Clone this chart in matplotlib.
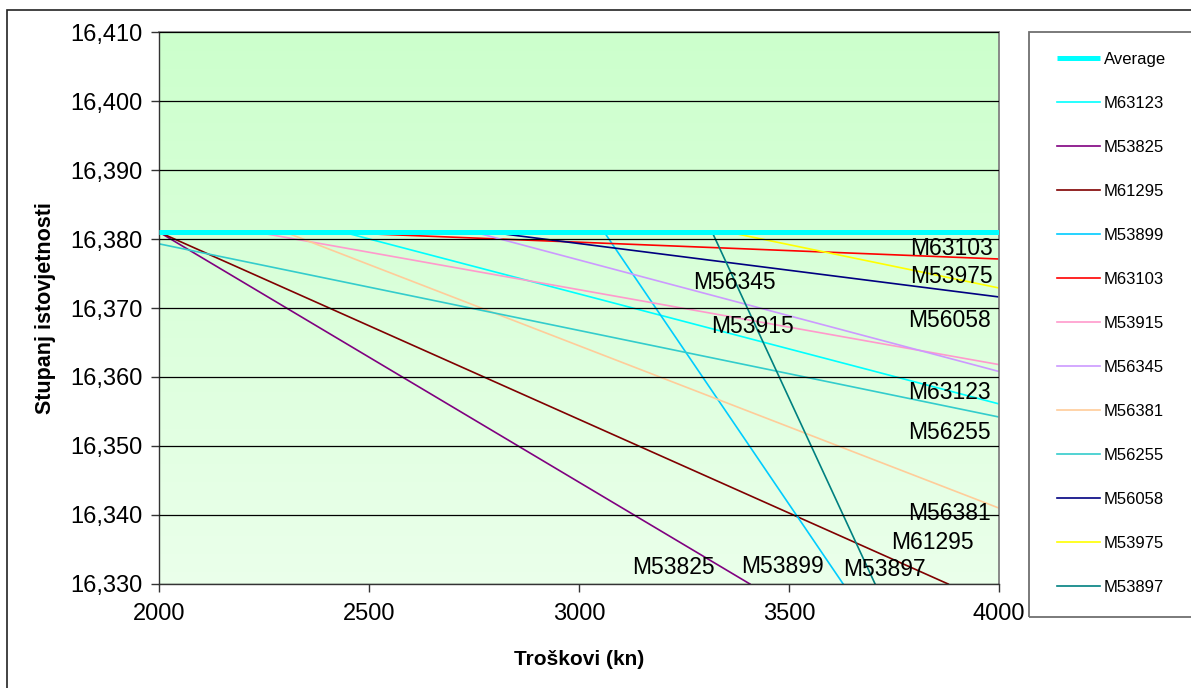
import matplotlib
matplotlib.use("Agg")
import matplotlib.pyplot as plt
import numpy as np
from matplotlib.patches import Rectangle
from matplotlib.ticker import FuncFormatter, MultipleLocator

plt.rcParams['font.family'] = ['Liberation Sans', 'DejaVu Sans']

# ---- data ----
avg_x = [2000, 4000]
avg_y = [16.381, 16.381]

series_names = ["M63123", "M53825", "M61295", "M53899", "M63103", "M53915",
                "M56345", "M56381", "M56255", "M56058", "M53975", "M53897"]
series_x = [
    [2438, 4000],   # M63123
    [2000, 3407],   # M53825
    [2000, 3879],   # M61295
    [3060, 3629],   # M53899
    [2398, 4000],   # M63103
    [2231, 4000],   # M53915
    [2750, 4000],   # M56345
    [2300, 4000],   # M56381
    [2000, 4000],   # M56255
    [2786, 4000],   # M56058
    [3355, 4000],   # M53975
    [3317, 3705],   # M53897
]
series_y = [
    [16.381, 16.3561],
    [16.381, 16.330],
    [16.381, 16.330],
    [16.381, 16.330],
    [16.381, 16.3771],
    [16.381, 16.3618],
    [16.381, 16.3608],
    [16.381, 16.3410],
    [16.3793, 16.3542],
    [16.381, 16.3716],
    [16.381, 16.3729],
    [16.381, 16.330],
]
series_colors = ["#00FFFF", "#800080", "#800000", "#00CCFF", "#FF0000", "#FF99CC",
                 "#CC99FF", "#FFCC99", "#33CCCC", "#000080", "#FFFF00", "#008080"]

# in-plot labels (text, x, y)
label_text = ["M63103", "M53975", "M56345", "M56058", "M53915", "M63123",
              "M56255", "M56381", "M61295", "M53825", "M53899", "M53897"]
label_x = [3886, 3886, 3369, 3883, 3414, 3881, 3881, 3883, 3842, 3226, 3484, 3728]
label_y = [16.3786, 16.3746, 16.3737, 16.3682, 16.3673, 16.3577,
           16.3519, 16.3402, 16.3360, 16.3324, 16.3326, 16.3321]

x_ticks = [2000, 2500, 3000, 3500, 4000]

W, H = 1191, 688
fig = plt.figure(figsize=(W / 100, H / 100), dpi=100)
fig.patch.set_facecolor('white')

x0, x1, ytop, ybot = 159, 999, 32, 584
ax = fig.add_axes([x0 / W, 1 - ybot / H, (x1 - x0) / W, (ybot - ytop) / H])

# gradient background
grad = np.linspace(0, 1, 256).reshape(-1, 1)
top_c = np.array([0.80, 1.0, 0.80])
bot_c = np.array([0.92, 1.0, 0.92])
img = top_c[None, None, :] * (1 - grad[:, :, None]) + bot_c[None, None, :] * grad[:, :, None]
ax.imshow(img, extent=[2000, 4000, 16.330, 16.410], aspect='auto', zorder=0, origin='upper')

ax.set_xlim(2000, 4000)
ax.set_ylim(16.330, 16.410)
ax.yaxis.set_major_locator(MultipleLocator(0.01))
ax.set_xticks(x_ticks)
ax.yaxis.set_major_formatter(FuncFormatter(lambda v, p: f"{v:.3f}".replace('.', ',')))
ax.grid(axis='y', color='black', lw=0.9, zorder=1)
ax.set_axisbelow(False)

ax.tick_params(axis='both', direction='out', length=6, width=1, labelsize=17, color='#333333')
ax.tick_params(axis='y', pad=6)
ax.tick_params(axis='x', pad=8)
for s in ['left', 'bottom']:
    ax.spines[s].set_color('#333333')
    ax.spines[s].set_linewidth(1)
for s in ['top', 'right']:
    ax.spines[s].set_color('#808080')
    ax.spines[s].set_linewidth(1.3)

handles = []
h, = ax.plot(avg_x, avg_y, color='#00FFFF', lw=3.6, label='Average', zorder=3, solid_capstyle='butt')
handles.append(h)
for nm, xs, ys, c in zip(series_names, series_x, series_y, series_colors):
    h, = ax.plot(xs, ys, color=c, lw=1.2, label=nm, zorder=2)
    handles.append(h)

for t, lx, ly in zip(label_text, label_x, label_y):
    ax.text(lx, ly, t, fontsize=16.5, ha='center', va='center', zorder=5, clip_on=False)

ax.set_xlabel('Troškovi (kn)', fontsize=15, fontweight='bold', labelpad=18)
ax.set_ylabel('Stupanj istovjetnosti', fontsize=15.5, fontweight='bold', labelpad=10)

# legend box
fig.add_artist(Rectangle((1029 / W, 1 - 617 / H), 2, (617 - 32) / H,
                         transform=fig.transFigure, fill=False, edgecolor='#707070', lw=1.3))
# outer border
fig.add_artist(Rectangle((7 / W, -0.1), 2, 1 - 10 / H + 0.1,
                         transform=fig.transFigure, fill=False, edgecolor='#222222', lw=1.2))

leg = fig.legend(handles=handles, loc='center left',
                 bbox_to_anchor=(1057 / W, 1 - 323.5 / H), frameon=False,
                 fontsize=12, handlelength=2.6, handletextpad=0.2,
                 labelspacing=1.74, borderpad=0, borderaxespad=0)

fig.savefig('out.png', dpi=100)
